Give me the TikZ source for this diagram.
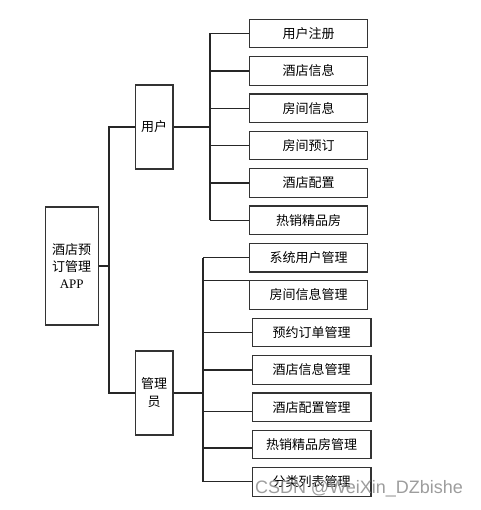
\documentclass[tikz,border=0pt]{standalone}
\usepackage{fontspec}
\setmainfont{Liberation Serif}
\newfontfamily\cjk{Noto Sans CJK SC}
\newfontfamily\wmfont{Liberation Sans}
\tikzset{
  box/.style={draw=black!80, line width=1.2pt, fill=white, inner sep=0pt,
    font=\cjk\fontsize{13}{17}\selectfont, align=center},
  leaf/.style={box, minimum width=118.5pt, minimum height=28.4pt},
  mid/.style={box, minimum width=37.7pt, minimum height=84pt},
  conn/.style={draw=black!85, line width=1.1pt}
}
\begin{document}
\begin{tikzpicture}[x=1pt,y=-1pt]
\useasboundingbox (0,0) rectangle (480,510);
% root and second level
\node[box, minimum width=53pt, minimum height=118pt] (root) at (71.7,266)
  {酒店预\\订管理\\{\rmfamily APP}};
\node[mid] (user) at (154.2,127) {用户};
\node[mid, font=\cjk\fontsize{13}{18}\selectfont] (admin) at (154.2,393) {管理\\员};
% user leaves
\node[leaf] (u1) at (308.5,33.5) {用户注册};
\node[leaf] (u2) at (308.5,71) {酒店信息};
\node[leaf] (u3) at (308.5,108.3) {房间信息};
\node[leaf] (u4) at (308.5,145.7) {房间预订};
\node[leaf] (u5) at (308.5,183) {酒店配置};
\node[leaf] (u6) at (308.5,220.3) {热销精品房};
% admin leaves
\node[leaf] (a1) at (308.5,257.7) {系统用户管理};
\node[leaf] (a2) at (308.5,295) {房间信息管理};
\node[leaf] (a3) at (311.7,332.5) {预约订单管理};
\node[leaf] (a4) at (311.7,370) {酒店信息管理};
\node[leaf] (a5) at (311.7,407.2) {酒店配置管理};
\node[leaf] (a6) at (311.7,444.5) {热销精品房管理};
\node[leaf] (a7) at (311.7,481.9) {分类列表管理};
% trunks
\coordinate (tx) at (109,0);
\coordinate (ux) at (210,0);
\coordinate (ax) at (203,0);
\draw[conn] (root.east) -- (root.east -| tx);
\draw[conn] (user.west) -- (user.west -| tx) -- (admin.west -| tx) -- (admin.west);
\draw[conn] (user.east) -- (user.east -| ux);
\draw[conn] (u1.west -| ux) -- (u6.west -| ux);
\foreach \n in {u1,u2,u3,u4,u5,u6}
  \draw[conn] (\n.west) -- (\n.west -| ux);
\draw[conn] (admin.east) -- (admin.east -| ax);
\draw[conn] (a1.west -| ax) -- (a7.west -| ax);
\draw[conn] (a1.west) -- (a1.west -| ax);
\draw[conn] (a2.north west) -- (a2.north west -| ax);
\draw[conn] (a3.west) -- (a3.west -| ax);
\draw[conn] (a4.west) -- (a4.west -| ax);
\draw[conn] ([yshift=-4pt]a5.west) -- ([yshift=-4pt]a5.west -| ax);
\draw[conn] ([yshift=-3.5pt]a6.west) -- ([yshift=-3.5pt]a6.west -| ax);
\draw[conn] (a7.west) -- (a7.west -| ax);
% watermark
\node[text=black!45, opacity=0.85, font=\wmfont\fontsize{18}{18}\selectfont, inner sep=0pt] (wm) at (359,489) {CSDN @WeiXin\_DZbishe};
\end{tikzpicture}
\end{document}
